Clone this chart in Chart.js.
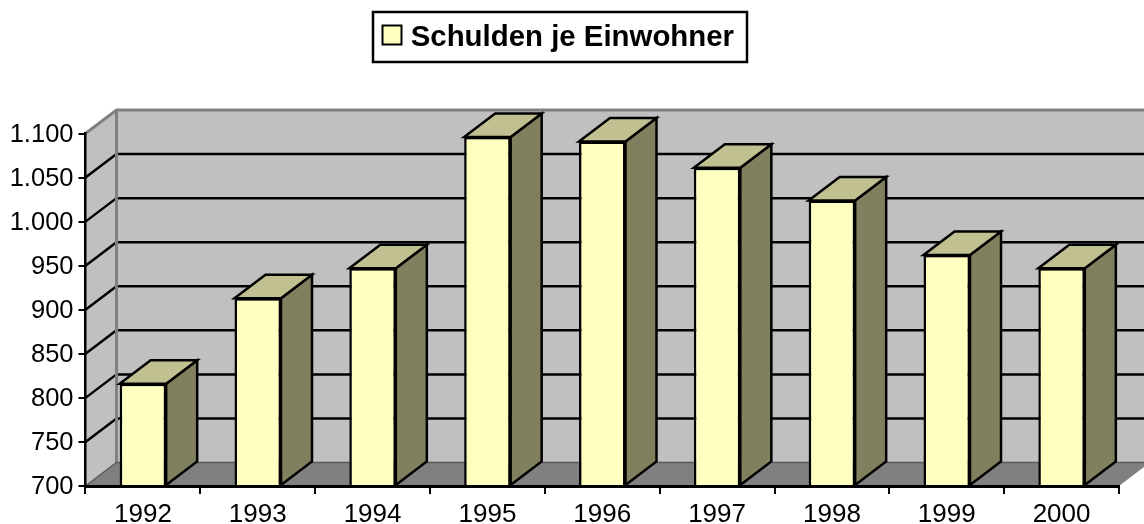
<!DOCTYPE html>
<html><head><meta charset="utf-8">
<style>html,body{margin:0;padding:0;background:#fff}#w{width:1144px;height:524px;position:relative}</style>
<script src="https://cdn.jsdelivr.net/npm/chart.js@4"></script>
</head><body><div id="w"><canvas id="c" width="1144" height="524"></canvas></div>
<script>
const categories = ['1992','1993','1994','1995','1996','1997','1998','1999','2000'];
const seriesName = 'Schulden je Einwohner';
const values = [816, 913, 947, 1096, 1091, 1061, 1024, 962, 947];
const tickValues = [700,750,800,850,900,950,1000,1050,1100];
const DX = 31, DY = -23.5;
const FONT = '"Liberation Sans", Arial, sans-serif';

function poly(ctx, pts, fill, stroke, lw){
  ctx.beginPath();
  pts.forEach((p,i)=> i?ctx.lineTo(p[0],p[1]):ctx.moveTo(p[0],p[1]));
  ctx.closePath();
  if(fill){ctx.fillStyle=fill;ctx.fill();}
  if(stroke){ctx.strokeStyle=stroke;ctx.lineWidth=lw||2;ctx.lineJoin='miter';ctx.stroke();}
}
const box3d = {
  id:'box3d',
  afterLayout(chart){
    const l = chart.legend;
    l.left=372; l.right=748; l.top=13; l.bottom=64; l.width=376; l.height=51;
  },
  beforeDraw(chart){
    const ctx=chart.ctx, a=chart.chartArea, y=chart.scales.y;
    const L=a.left,R=a.right,T=a.top,B=a.bottom;
    ctx.save();
    ctx.fillStyle='#fff';ctx.fillRect(0,0,chart.width,chart.height);
    poly(ctx,[[L+DX,T+DY],[R+DX,T+DY],[R+DX,B+DY],[L+DX,B+DY]],'#C0C0C0');
    poly(ctx,[[L,B],[L+DX,B+DY],[L+DX,T+DY],[L,T]],'#C0C0C0');
    poly(ctx,[[L,B],[L+DX,B+DY],[R+DX,B+DY],[R,B]],'#808080');
    ctx.strokeStyle='#000';ctx.lineWidth=2.5;
    tickValues.forEach(v=>{
      if(v===700||v===1100) return;
      const p=y.getPixelForValue(v);
      ctx.beginPath();ctx.moveTo(L,p);ctx.lineTo(L+DX,p+DY);ctx.lineTo(R+DX,p+DY);ctx.stroke();
    });
    ctx.strokeStyle='#808080';ctx.lineWidth=3;
    ctx.beginPath();ctx.moveTo(L,T);ctx.lineTo(L+DX,T+DY);ctx.lineTo(R+DX,T+DY);
    ctx.moveTo(L+DX,T+DY);ctx.lineTo(L+DX,B+DY);ctx.stroke();
    ctx.strokeStyle='#5a5a5a';ctx.lineWidth=1.5;
    ctx.beginPath();ctx.moveTo(L,B);ctx.lineTo(L+DX,B+DY);ctx.lineTo(R+DX,B+DY);ctx.stroke();
    ctx.strokeStyle='#000';ctx.lineWidth=2.5;
    ctx.strokeRect(373,12,374,50);
    ctx.fillStyle='#FFFFC0';ctx.lineWidth=2;
    ctx.fillRect(382.5,25.5,19,19);ctx.strokeRect(382.5,25.5,19,19);
    ctx.restore();
  },
  beforeDatasetsDraw(chart){
    const ctx=chart.ctx;
    ctx.save();
    chart.getDatasetMeta(0).data.forEach(b=>{
      const xl=b.x-b.width/2,xr=b.x+b.width/2,t=b.y,bt=b.base;
      poly(ctx,[[xr,bt],[xr+DX,bt+DY],[xr+DX,t+DY],[xr,t]],'#80805F','#000',2.5);
      poly(ctx,[[xl,t],[xl+DX,t+DY],[xr+DX,t+DY],[xr,t]],'#C0C090','#000',2.5);
    });
    ctx.restore();
  }
};
new Chart(document.getElementById('c'),{
  type:'bar',
  data:{labels:categories,datasets:[{label:seriesName,data:values,base:700,backgroundColor:'#FFFFC0',borderColor:'#000',borderWidth:2.5,barPercentage:0.405,categoryPercentage:1,clip:false}]},
  plugins:[box3d],
  options:{
    responsive:false,animation:false,
    layout:{padding:{left:0,right:25,top:133.5,bottom:0}},
    plugins:{
      title:{display:false},tooltip:{enabled:false},
      legend:{display:true,position:'chartArea',align:'start',
        labels:{boxWidth:14,boxHeight:18,padding:10,color:'#000',font:{family:FONT,size:29.4,weight:'bold'},
          generateLabels(){return [{text:seriesName,fillStyle:'rgba(0,0,0,0)',strokeStyle:'rgba(0,0,0,0)',lineWidth:0,hidden:false,datasetIndex:0}];}}}
    },
    scales:{
      x:{type:'category',
        afterFit(s){s.height=38;},
        grid:{display:true,drawOnChartArea:false,drawTicks:true,tickLength:8,color:'#000',lineWidth:2,offset:true},
        border:{display:true,color:'#000',width:3},
        ticks:{color:'#000',font:{family:FONT,size:26},padding:5,maxRotation:0}},
      y:{type:'linear',min:700,max:1100,
        afterFit(s){s.width=85.5;},
        afterBuildTicks(s){s.ticks=tickValues.map(v=>({value:v}));},
        grid:{display:true,drawOnChartArea:false,drawTicks:true,tickLength:7,color:'#000',lineWidth:2},
        border:{display:true,color:'#000',width:2.5},
        ticks:{color:'#000',font:{family:FONT,size:25.5},padding:5,labelOffset:1,callback:v=>String(v).replace(/\B(?=(\d{3})+$)/g,'.')}}
    }
  }
});
</script></body></html>
